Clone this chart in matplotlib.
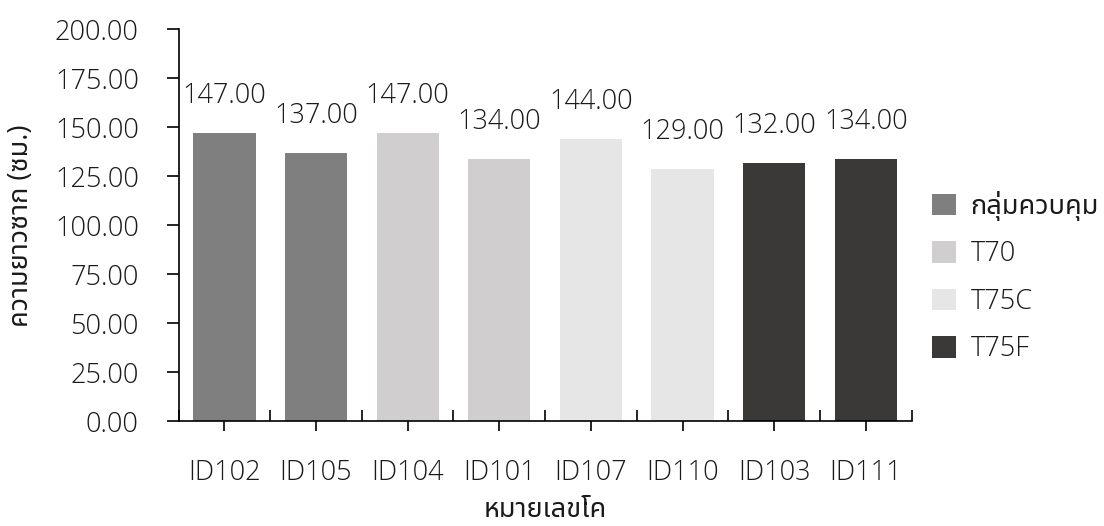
import numpy as np
import matplotlib
matplotlib.use("Agg")
import matplotlib.pyplot as plt
from matplotlib import font_manager
from matplotlib.ft2font import FT2Font
from matplotlib.patches import Patch
from matplotlib.ticker import FixedLocator, FormatStrFormatter

# Carcass length per cow, grouped by treatment
cows = ["ID102", "ID105", "ID104", "ID101", "ID107", "ID110", "ID103", "ID111"]
lengths = [147.00, 137.00, 147.00, 134.00, 144.00, 129.00, 132.00, 134.00]
groups = ["กลุ่มควบคุม", "กลุ่มควบคุม", "T70", "T70", "T75C", "T75C", "T75F", "T75F"]
group_names = ["กลุ่มควบคุม", "T70", "T75C", "T75F"]
group_colors = ["#7F7F7F", "#D0CECE", "#E7E6E6", "#3B3838"]
y_ticks = [0, 25, 50, 75, 100, 125, 150, 175, 200]
x_title = "หมายเลขโค"
y_title = "ความยาวซาก (ซม.)"


def thai_capable_family():
    """Pick an installed Thai-capable family and the lightest weight it offers."""
    code = ord("ก")
    weights = {}
    seen = set()
    for entry in font_manager.fontManager.ttflist:
        if entry.fname in seen:
            continue
        seen.add(entry.fname)
        try:
            cmap = FT2Font(entry.fname).get_charmap()
        except Exception:
            continue
        if code in cmap:
            w = entry.weight if isinstance(entry.weight, int) else 400
            weights.setdefault(entry.name, set()).add(w)
    if not weights:
        return None, 400
    preferred = ["Noto Sans Thai", "Noto Sans Thai UI", "Noto Sans Thai Looped",
                 "Sarabun", "TH Sarabun New", "Loma", "Garuda", "Umpush", "Waree"]
    candidates = [n for n in preferred if n in weights]
    candidates += [n for n in weights if "Thai" in n and n not in candidates]
    candidates += [n for n in weights if n not in candidates]
    # favour a family that has a light or regular cut
    for name in candidates:
        light = [w for w in weights[name] if w <= 400]
        if light:
            return name, max(300, min(light))
    name = candidates[0]
    return name, min(weights[name])


def has_thai(s):
    return any("\u0e00" <= ch <= "\u0e7f" for ch in s)


thai, thai_weight = thai_capable_family()
families = ["Open Sans"] + ([thai] if thai else []) + ["DejaVu Sans"]
plt.rcParams["font.family"] = families
plt.rcParams["font.weight"] = "light"

FS = 19.5
INK = "#000000"
TXT = "#1a1a1a"

fig = plt.figure(figsize=(11.04, 5.26), dpi=100)
ax = fig.add_axes([0.1617, 0.1987, 0.6642, 0.7456])

x = np.arange(len(cows))
color_of = dict(zip(group_names, group_colors))
bars = ax.bar(x, lengths, width=0.68, color=[color_of[g] for g in groups], zorder=2)

for rect, val in zip(bars, lengths):
    ax.annotate(f"{val:.2f}", xy=(rect.get_x() + rect.get_width() / 2, val),
                xytext=(0, 30), textcoords="offset pixels",
                ha="center", va="baseline", fontsize=FS, color=TXT)

ax.set_xlim(-0.5, len(cows) - 0.5)
ax.set_ylim(0, 200)
ax.set_yticks(y_ticks)
ax.yaxis.set_major_formatter(FormatStrFormatter("%.2f"))
ax.set_xticks(x)
ax.set_xticklabels(cows)
ax.xaxis.set_minor_locator(FixedLocator(np.arange(-0.5, len(cows), 1.0)))

for side in ("top", "right"):
    ax.spines[side].set_visible(False)
for side in ("left", "bottom"):
    ax.spines[side].set_linewidth(1.2)
    ax.spines[side].set_color(INK)

ax.tick_params(axis="y", which="major", direction="out", length=8.6, width=1.2,
               pad=20, labelsize=FS, colors=INK, labelcolor=TXT)
ax.tick_params(axis="x", which="major", direction="out", length=7.2, width=1.2,
               pad=20, labelsize=FS, colors=INK, labelcolor=TXT)
ax.tick_params(axis="x", which="minor", direction="in", length=8.0, width=1.2,
               colors=INK)

ax.set_xlabel(x_title, fontsize=FS, labelpad=6, color=TXT, fontweight=thai_weight)
ax.set_ylabel(y_title, fontsize=FS, labelpad=14, color=TXT, fontweight=thai_weight)

handles = [Patch(facecolor=c, edgecolor="none", label=n)
           for n, c in zip(group_names, group_colors)]
leg = fig.legend(handles=handles, loc="upper left", bbox_to_anchor=(0.844, 0.637),
                 frameon=False, fontsize=FS, handlelength=0.88, handleheight=0.85,
                 handletextpad=0.55, labelspacing=0.72, borderpad=0, borderaxespad=0,
                 labelcolor=TXT)
for t in leg.get_texts():
    if has_thai(t.get_text()):
        t.set_fontweight(thai_weight)

fig.savefig("out.png", dpi=100)
